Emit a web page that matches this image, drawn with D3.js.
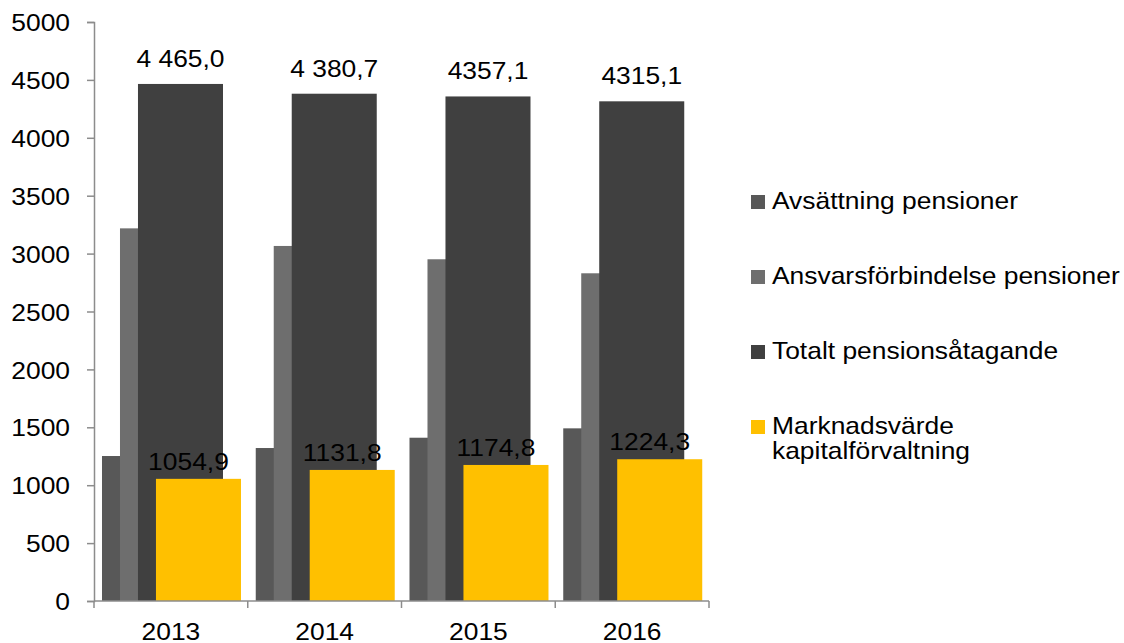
<!DOCTYPE html>
<html>
<head>
<meta charset="utf-8">
<script src="https://cdn.jsdelivr.net/npm/d3@7"></script>
<style>
  body { margin: 0; background: #fff; }
  text { font-family: "Liberation Sans", Arial, sans-serif; fill: #000; }
</style>
</head>
<body>
<div id="chart"></div>
<script>
/* Data */
const years = ["2013", "2014", "2015", "2016"];
const series = ["Avsättning pensioner", "Ansvarsförbindelse pensioner", "Totalt pensionsåtagande", "Marknadsvärde kapitalförvaltning"];
const avsattning = [1252, 1321, 1410, 1491];
const ansvar = [3218, 3066, 2951, 2830];
const totalt = [4465.0, 4380.7, 4357.1, 4315.1];
const marknad = [1054.9, 1131.8, 1174.8, 1224.3];
const totaltLabels = ["4 465,0", "4 380,7", "4357,1", "4315,1"];
const marknadLabels = ["1054,9", "1131,8", "1174,8", "1224,3"];
const yTicks = [0, 500, 1000, 1500, 2000, 2500, 3000, 3500, 4000, 4500, 5000];
const colors = ["#585858", "#6e6e6e", "#404040", "#FFC000"];

const width = 1124, height = 643;
const fs = "24px", sx = 1.1; // the source text is a bit wide, stretch it

const svg = d3.select("#chart").append("svg")
  .attr("width", width)
  .attr("height", height);

// text helper: places a horizontally stretched label
function label(g, x, y, str, anchor) {
  return g.append("text")
    .attr("transform", `translate(${x},${y}) scale(${sx},1)`)
    .attr("text-anchor", anchor || "start")
    .attr("font-size", fs)
    .text(str);
}

const x = d3.scaleBand().domain(years).range([94, 709]);
const bw = x.bandwidth();
const barW = bw * 0.553;
// overlapping bars: each series shifted a little to the right
const offset = d3.scaleLinear().domain([0, 3]).range([bw * 0.052, bw * 0.052 + bw * 0.351]);

const y = d3.scaleLinear().domain([0, 5000]).range([601, 22]);

const allSeries = [avsattning, ansvar, totalt, marknad];

/* Bars */
allSeries.forEach((vals, s) => {
  svg.append("g").selectAll("rect")
    .data(vals)
    .enter()
    .append("rect")
    .attr("x", (d, i) => x(years[i]) + offset(s))
    .attr("y", d => y(d))
    .attr("width", barW)
    .attr("height", d => y(0) - y(d))
    .attr("fill", colors[s]);
});

/* Axes */
const yAxis = svg.append("g")
  .attr("transform", "translate(94,0)")
  .call(d3.axisLeft(y).tickValues(yTicks).tickSize(7).tickFormat(d3.format("d")));
yAxis.select(".domain").attr("stroke", "#8c8c8c").attr("stroke-width", 1.5);
yAxis.selectAll(".tick line").attr("stroke", "#8c8c8c").attr("stroke-width", 1.5);
yAxis.selectAll(".tick text")
  .attr("font-size", fs)
  .attr("fill", "#000")
  .attr("x", -24 / sx)
  .attr("dy", "0.36em")
  .attr("transform", `scale(${sx},1)`);

const xAxis = svg.append("g")
  .attr("transform", "translate(0,601)");
xAxis.append("line")
  .attr("x1", 94).attr("x2", 709)
  .attr("stroke", "#8c8c8c").attr("stroke-width", 1.5);
xAxis.selectAll(".xt")
  .data(years.concat(["end"]))
  .enter()
  .append("line")
  .attr("x1", d => d === "end" ? 709 : x(d))
  .attr("x2", d => d === "end" ? 709 : x(d))
  .attr("y1", 0).attr("y2", 7)
  .attr("stroke", "#8c8c8c").attr("stroke-width", 1.5);
years.forEach(d => label(xAxis, x(d) + bw / 2, 39, d, "middle"));

/* Data labels */
const lab = svg.append("g");
totalt.forEach((d, i) => {
  label(lab, x(years[i]) + offset(2) + barW / 2, y(d) - 17, totaltLabels[i], "middle");
});
marknad.forEach((d, i) => {
  label(lab, x(years[i]) + offset(3) + barW / 2 - 10, y(d) - 9, marknadLabels[i], "middle");
});

/* Legend */
const legend = svg.append("g").attr("transform", "translate(751,195)");
series.forEach((name, i) => {
  const g = legend.append("g").attr("transform", `translate(0,${i * 75})`);
  g.append("rect")
    .attr("width", 14)
    .attr("height", 14)
    .attr("fill", colors[i]);
  if (i === 3) {
    label(g, 21, 14, "Marknadsvärde");
    label(g, 21, 39, "kapitalförvaltning");
  } else {
    label(g, 21, 14, name);
  }
});
</script>
</body>
</html>
